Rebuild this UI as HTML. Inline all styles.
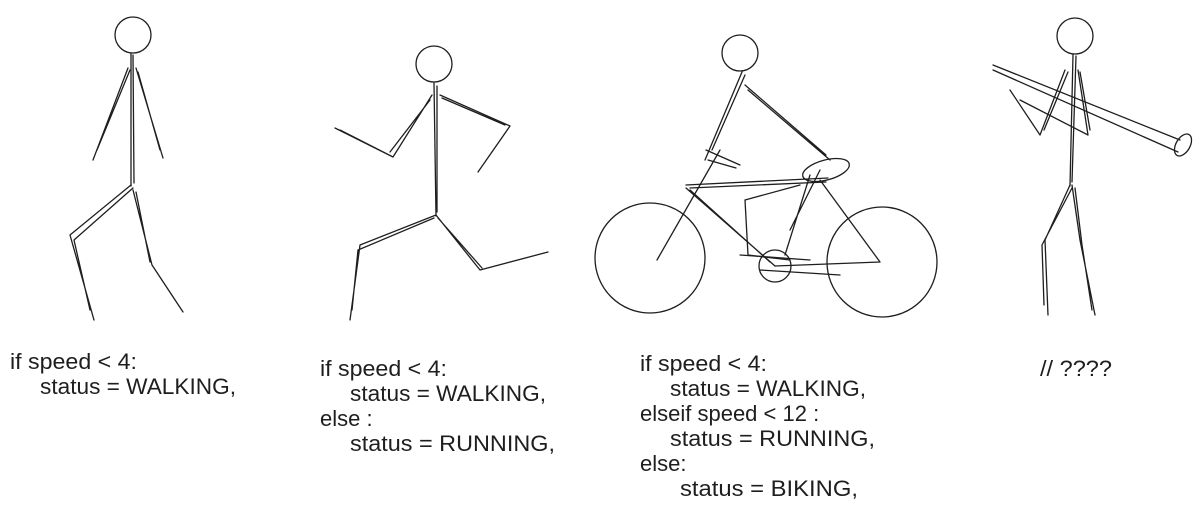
<!DOCTYPE html>
<html><head><meta charset="utf-8"><style>
html,body{margin:0;padding:0;background:#fff;}
svg{display:block}
text{font-family:"Liberation Sans",sans-serif;font-size:22px;fill:#1e1e1e}
.s{stroke:#1e1e1e;stroke-width:1.3;fill:none;stroke-linecap:round;stroke-linejoin:round}
</style></head><body>
<svg width="1204" height="510" viewBox="0 0 1204 510">
<g class="s">
  <circle cx="133" cy="35" r="18"/>
  <path d="M131 54 L131 186 M133 55 L134 183"/>
  <path d="M128 68 L93 160 M130 70 L97 150"/>
  <path d="M136 68 L163 158 M138 72 L160 150"/>
  <path d="M131 185 L70 235 L94 320 M133 188 L74 240 L90 310"/>
  <path d="M133 190 L152 265 L183 312 M136 192 L150 262"/>
</g>
<g class="s">
  <circle cx="434" cy="64" r="18"/>
  <path d="M434 83 L436 216 M437 86 L437 212"/>
  <path d="M432 95 L393 157 L335 128 M430 100 L390 152 M393 157 L340 130"/>
  <path d="M440 95 L510 126 L478 172 M442 98 L505 125"/>
  <path d="M436 215 L360 245 L350 320 M434 218 L358 250 L352 310"/>
  <path d="M436 215 L480 270 L548 252 M438 218 L482 268"/>
</g>
<g class="s">
  <circle cx="740" cy="53" r="18"/>
  <circle cx="650" cy="258" r="55"/>
  <circle cx="882" cy="262" r="55"/>
  <circle cx="775" cy="266" r="16"/>
  <ellipse cx="826" cy="170" rx="24" ry="10" transform="rotate(-15 826 170)"/>
  <path d="M742 72 L705 160 M745 75 L712 150"/>
  <path d="M745 85 L826 155 M748 90 L830 160"/>
  <path d="M706 150 L740 165 M708 160 L736 168"/>
  <path d="M720 150 L657 260"/>
  <path d="M686 185 L828 178 M690 188 L826 182"/>
  <path d="M686 188 L775 266 M690 190 L770 262"/>
  <path d="M820 180 L880 262 L775 266"/>
  <path d="M745 200 L748 255 L790 260 M745 200 L800 185"/>
  <path d="M810 175 L785 255 M820 170 L790 230"/>
  <path d="M740 255 L810 260 M760 270 L840 275"/>
</g>
<g class="s">
  <circle cx="1075" cy="36" r="18"/>
  <path d="M1073 55 L1070 186 M1076 56 L1072 182"/>
  <path d="M993 65 L1180 140 M993 70 L1178 152"/>
  <ellipse cx="1183" cy="145" rx="7" ry="12" transform="rotate(30 1183 145)"/>
  <path d="M1065 70 L1040 135 L1010 90 M1068 72 L1044 130"/>
  <path d="M1078 70 L1088 135 L1020 100 M1080 72 L1090 130"/>
  <path d="M1070 185 L1045 240 L1048 315 M1072 188 L1042 245 L1044 305"/>
  <path d="M1072 185 L1080 240 L1095 315 M1075 188 L1082 245 L1092 310"/>
</g>
<g>
  <text x="10" y="369" textLength="127" lengthAdjust="spacingAndGlyphs">if speed &lt; 4:</text>
  <text x="40" y="394" textLength="196" lengthAdjust="spacingAndGlyphs">status = WALKING,</text>
</g>
<g>
  <text x="320" y="376" textLength="127" lengthAdjust="spacingAndGlyphs">if speed &lt; 4:</text>
  <text x="350" y="401" textLength="196" lengthAdjust="spacingAndGlyphs">status = WALKING,</text>
  <text x="320" y="426">else :</text>
  <text x="350" y="451" textLength="205" lengthAdjust="spacingAndGlyphs">status = RUNNING,</text>
</g>
<g>
  <text x="640" y="371" textLength="127" lengthAdjust="spacingAndGlyphs">if speed &lt; 4:</text>
  <text x="670" y="396" textLength="196" lengthAdjust="spacingAndGlyphs">status = WALKING,</text>
  <text x="640" y="421">elseif speed &lt; 12 :</text>
  <text x="670" y="446" textLength="205" lengthAdjust="spacingAndGlyphs">status = RUNNING,</text>
  <text x="640" y="471">else:</text>
  <text x="680" y="496" textLength="178" lengthAdjust="spacingAndGlyphs">status = BIKING,</text>
</g>
<text x="1040" y="376" textLength="72" lengthAdjust="spacingAndGlyphs">// ????</text>
</svg>
</body></html>
